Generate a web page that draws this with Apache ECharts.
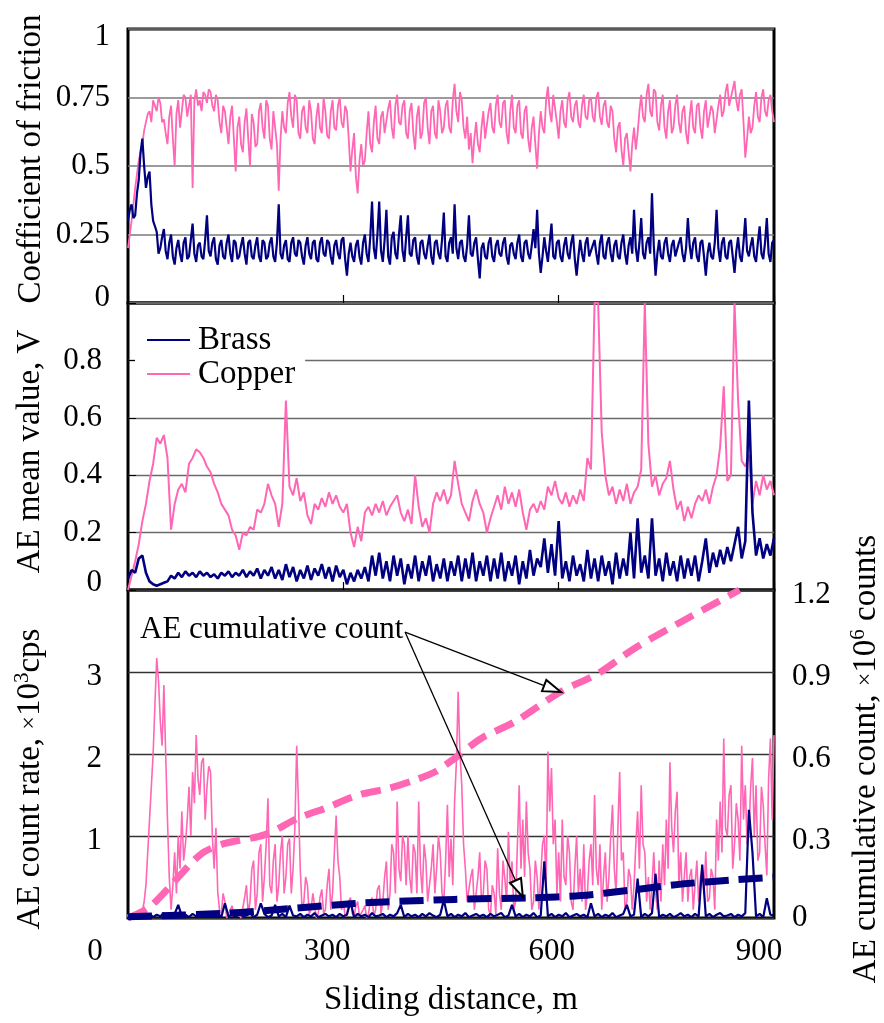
<!DOCTYPE html>
<html><head><meta charset="utf-8">
<script src="https://cdn.jsdelivr.net/npm/echarts@6/dist/echarts.min.js"></script>
<style>html,body{margin:0;padding:0;background:#fff}#c{width:884px;height:1023px}</style>
</head><body><div id="c"></div>
<script>
// Sliding distance (m) at which the traces were sampled
const distance = [
0,5,10,15,20,25,30,35,40,45,50,55,60,65,70,75,80,85,90,95,
100,105,110,115,120,125,130,135,140,145,150,155,160,165,170,175,180,185,190,195,
200,205,210,215,220,225,230,235,240,245,250,255,260,265,270,275,280,285,290,295,
300,305,310,315,320,325,330,335,340,345,350,355,360,365,370,375,380,385,390,395,
400,405,410,415,420,425,430,435,440,445,450,455,460,465,470,475,480,485,490,495,
500,505,510,515,520,525,530,535,540,545,550,555,560,565,570,575,580,585,590,595,
600,605,610,615,620,625,630,635,640,645,650,655,660,665,670,675,680,685,690,695,
700,705,710,715,720,725,730,735,740,745,750,755,760,765,770,775,780,785,790,795,
800,805,810,815,820,825,830,835,840,845,850,855,860,865,870,875,880,885,890,895,
900];
// Extra, in-between sampling positions for the densest traces
const distanceMid = [
2.5,7.5,12.5,17.5,22.5,27.5,32.5,37.5,42.5,47.5,52.5,57.5,62.5,67.5,72.5,77.5,82.5,87.5,92.5,97.5,
102.5,107.5,112.5,117.5,122.5,127.5,132.5,137.5,142.5,147.5,152.5,157.5,162.5,167.5,172.5,177.5,182.5,187.5,192.5,197.5,
202.5,207.5,212.5,217.5,222.5,227.5,232.5,237.5,242.5,247.5,252.5,257.5,262.5,267.5,272.5,277.5,282.5,287.5,292.5,297.5,
302.5,307.5,312.5,317.5,322.5,327.5,332.5,337.5,342.5,347.5,352.5,357.5,362.5,367.5,372.5,377.5,382.5,387.5,392.5,397.5,
402.5,407.5,412.5,417.5,422.5,427.5,432.5,437.5,442.5,447.5,452.5,457.5,462.5,467.5,472.5,477.5,482.5,487.5,492.5,497.5,
502.5,507.5,512.5,517.5,522.5,527.5,532.5,537.5,542.5,547.5,552.5,557.5,562.5,567.5,572.5,577.5,582.5,587.5,592.5,597.5,
602.5,607.5,612.5,617.5,622.5,627.5,632.5,637.5,642.5,647.5,652.5,657.5,662.5,667.5,672.5,677.5,682.5,687.5,692.5,697.5,
702.5,707.5,712.5,717.5,722.5,727.5,732.5,737.5,742.5,747.5,752.5,757.5,762.5,767.5,772.5,777.5,782.5,787.5,792.5,797.5,
802.5,807.5,812.5,817.5,822.5,827.5,832.5,837.5,842.5,847.5,852.5,857.5,862.5,867.5,872.5,877.5,882.5,887.5,892.5,897.5];

// Coefficient of friction
const frictionCopper = [
0.20,0.30,0.42,0.52,0.58,0.66,0.70,0.74,0.70,0.73,0.67,0.58,0.72,0.50,0.74,0.70,0.75,0.72,0.42,0.78,
0.74,0.77,0.73,0.77,0.70,0.74,0.62,0.70,0.58,0.72,0.48,0.68,0.55,0.71,0.50,0.66,0.58,0.73,0.60,0.72,
0.56,0.64,0.41,0.70,0.62,0.77,0.64,0.74,0.60,0.72,0.62,0.70,0.58,0.73,0.62,0.70,0.60,0.74,0.63,0.75,
0.64,0.70,0.48,0.62,0.40,0.58,0.52,0.70,0.55,0.72,0.58,0.70,0.62,0.74,0.60,0.76,0.65,0.74,0.60,0.73,
0.56,0.72,0.62,0.75,0.58,0.72,0.60,0.70,0.64,0.74,0.62,0.80,0.66,0.74,0.60,0.56,0.51,0.66,0.55,0.70,
0.60,0.73,0.62,0.76,0.64,0.74,0.58,0.76,0.62,0.74,0.60,0.72,0.55,0.68,0.49,0.70,0.62,0.79,0.66,0.76,
0.60,0.74,0.64,0.77,0.66,0.74,0.64,0.76,0.67,0.75,0.66,0.77,0.65,0.74,0.64,0.70,0.55,0.66,0.50,0.62,
0.48,0.64,0.62,0.76,0.66,0.80,0.68,0.77,0.63,0.76,0.60,0.74,0.64,0.76,0.62,0.72,0.58,0.74,0.62,0.73,
0.60,0.74,0.64,0.70,0.62,0.76,0.70,0.80,0.72,0.81,0.70,0.78,0.53,0.68,0.64,0.77,0.66,0.78,0.68,0.76,
0.66];
const frictionCopperMid = [
0.25,0.36,0.47,0.55,0.63,0.69,0.66,0.72,0.75,0.66,0.62,0.68,0.60,0.69,0.64,0.76,0.68,0.76,0.74,0.72,
0.70,0.76,0.78,0.72,0.76,0.66,0.72,0.64,0.68,0.60,0.64,0.58,0.66,0.60,0.69,0.57,0.70,0.64,0.74,0.60,
0.70,0.58,0.60,0.64,0.73,0.68,0.76,0.62,0.70,0.64,0.74,0.60,0.68,0.64,0.75,0.61,0.70,0.64,0.72,0.66,
0.72,0.60,0.56,0.46,0.52,0.50,0.62,0.58,0.66,0.60,0.68,0.62,0.71,0.64,0.72,0.66,0.72,0.62,0.70,0.62,
0.68,0.60,0.73,0.64,0.70,0.62,0.74,0.62,0.72,0.64,0.74,0.70,0.77,0.64,0.68,0.62,0.60,0.58,0.64,0.60,
0.70,0.64,0.72,0.66,0.73,0.62,0.70,0.64,0.72,0.62,0.70,0.60,0.64,0.58,0.62,0.64,0.74,0.70,0.76,0.66,
0.70,0.66,0.74,0.68,0.72,0.66,0.72,0.68,0.74,0.68,0.75,0.68,0.72,0.66,0.72,0.60,0.64,0.56,0.60,0.55,
0.58,0.56,0.70,0.68,0.76,0.70,0.78,0.66,0.72,0.64,0.70,0.62,0.72,0.66,0.70,0.62,0.68,0.64,0.72,0.64,
0.70,0.64,0.72,0.62,0.72,0.68,0.77,0.72,0.78,0.74,0.76,0.66,0.60,0.62,0.72,0.68,0.75,0.70,0.74,0.70];
const frictionBrass = [
0.30,0.36,0.32,0.45,0.60,0.42,0.48,0.30,0.26,0.20,0.27,0.16,0.25,0.14,0.23,0.15,0.24,0.17,0.29,0.15,
0.22,0.16,0.32,0.17,0.24,0.14,0.23,0.16,0.25,0.15,0.22,0.17,0.24,0.14,0.23,0.16,0.24,0.15,0.22,0.17,
0.24,0.15,0.36,0.16,0.23,0.15,0.24,0.17,0.22,0.14,0.24,0.16,0.23,0.15,0.24,0.17,0.22,0.14,0.23,0.16,
0.24,0.10,0.22,0.15,0.23,0.14,0.25,0.15,0.37,0.16,0.37,0.15,0.34,0.14,0.26,0.16,0.32,0.15,0.32,0.17,
0.24,0.14,0.23,0.16,0.25,0.14,0.23,0.16,0.33,0.15,0.24,0.36,0.16,0.23,0.15,0.32,0.17,0.24,0.09,0.22,
0.16,0.24,0.15,0.23,0.17,0.24,0.14,0.22,0.16,0.25,0.15,0.23,0.16,0.27,0.34,0.11,0.24,0.15,0.29,0.16,
0.23,0.15,0.24,0.16,0.25,0.10,0.23,0.15,0.24,0.17,0.23,0.14,0.25,0.16,0.24,0.15,0.23,0.16,0.25,0.14,
0.24,0.34,0.15,0.31,0.16,0.24,0.40,0.10,0.23,0.16,0.24,0.15,0.23,0.17,0.24,0.15,0.31,0.16,0.24,0.15,
0.23,0.10,0.22,0.16,0.34,0.15,0.24,0.16,0.23,0.11,0.24,0.15,0.31,0.17,0.24,0.15,0.28,0.16,0.31,0.15,
0.23];
const frictionBrassMid = [
0.34,0.31,0.40,0.55,0.50,0.46,0.36,0.28,0.18,0.24,0.19,0.22,0.17,0.20,0.18,0.22,0.16,0.23,0.18,0.21,
0.17,0.23,0.19,0.22,0.16,0.21,0.17,0.22,0.18,0.23,0.16,0.21,0.18,0.22,0.17,0.21,0.17,0.23,0.16,0.22,
0.17,0.22,0.18,0.21,0.16,0.22,0.18,0.23,0.17,0.21,0.18,0.22,0.16,0.22,0.18,0.23,0.17,0.21,0.18,0.23,
0.16,0.18,0.17,0.21,0.17,0.22,0.18,0.24,0.20,0.25,0.19,0.23,0.17,0.24,0.18,0.25,0.19,0.24,0.18,0.23,
0.17,0.22,0.18,0.21,0.17,0.22,0.18,0.23,0.17,0.22,0.18,0.20,0.22,0.17,0.21,0.18,0.22,0.16,0.20,0.17,
0.22,0.17,0.21,0.18,0.22,0.17,0.21,0.18,0.22,0.17,0.22,0.18,0.21,0.20,0.18,0.17,0.19,0.22,0.17,0.22,
0.17,0.21,0.18,0.22,0.16,0.17,0.18,0.22,0.17,0.21,0.18,0.22,0.17,0.22,0.18,0.21,0.17,0.22,0.18,0.21,
0.18,0.20,0.22,0.18,0.22,0.18,0.21,0.18,0.17,0.22,0.18,0.21,0.17,0.22,0.18,0.20,0.21,0.22,0.17,0.22,
0.17,0.18,0.17,0.22,0.20,0.22,0.17,0.22,0.17,0.19,0.17,0.22,0.19,0.21,0.17,0.22,0.18,0.22,0.18,0.22];

// AE mean value (V)
const aeMeanCopper = [
0.00,0.05,0.10,0.16,0.24,0.30,0.38,0.44,0.53,0.51,0.54,0.46,0.21,0.30,0.35,0.37,0.34,0.44,0.46,0.49,
0.48,0.46,0.43,0.41,0.37,0.34,0.30,0.28,0.26,0.21,0.19,0.14,0.20,0.19,0.22,0.21,0.28,0.27,0.30,0.37,
0.33,0.30,0.22,0.30,0.66,0.36,0.33,0.39,0.31,0.34,0.26,0.23,0.30,0.28,0.32,0.29,0.34,0.30,0.33,0.29,
0.27,0.30,0.20,0.15,0.22,0.17,0.27,0.29,0.26,0.30,0.27,0.31,0.26,0.29,0.31,0.33,0.27,0.24,0.28,0.23,
0.40,0.29,0.22,0.25,0.20,0.30,0.34,0.31,0.35,0.30,0.33,0.45,0.37,0.30,0.27,0.24,0.31,0.35,0.30,0.27,
0.20,0.25,0.29,0.33,0.28,0.36,0.30,0.34,0.29,0.35,0.27,0.21,0.28,0.30,0.27,0.31,0.28,0.36,0.33,0.38,
0.32,0.30,0.34,0.29,0.33,0.30,0.35,0.31,0.46,0.42,1.00,1.00,0.55,0.40,0.33,0.36,0.30,0.35,0.31,0.37,
0.30,0.34,0.36,0.42,1.00,0.51,0.36,0.40,0.33,0.37,0.39,0.45,0.35,0.28,0.31,0.24,0.29,0.25,0.30,0.33,
0.31,0.35,0.30,0.36,0.40,0.50,0.71,0.38,0.40,1.00,0.66,0.45,0.43,0.47,0.30,0.38,0.33,0.40,0.35,0.38,
0.33];
const aeMeanBrass = [
0.04,0.07,0.06,0.11,0.12,0.06,0.03,0.02,0.015,0.02,0.025,0.03,0.05,0.04,0.06,0.045,0.065,0.05,0.06,0.045,
0.065,0.05,0.06,0.045,0.055,0.04,0.06,0.05,0.065,0.045,0.06,0.05,0.07,0.045,0.065,0.05,0.075,0.04,0.07,0.05,
0.08,0.04,0.07,0.035,0.09,0.045,0.08,0.03,0.07,0.04,0.085,0.035,0.075,0.05,0.09,0.04,0.08,0.03,0.085,0.045,
0.07,0.02,0.06,0.03,0.07,0.04,0.08,0.03,0.12,0.05,0.13,0.04,0.10,0.03,0.12,0.05,0.11,0.02,0.09,0.04,
0.12,0.03,0.10,0.05,0.12,0.03,0.09,0.04,0.11,0.03,0.10,0.05,0.12,0.03,0.11,0.04,0.13,0.03,0.10,0.05,
0.12,0.03,0.11,0.04,0.13,0.03,0.10,0.05,0.12,0.02,0.10,0.04,0.14,0.05,0.11,0.08,0.18,0.06,0.16,0.05,
0.24,0.04,0.10,0.03,0.12,0.05,0.09,0.03,0.14,0.04,0.11,0.03,0.12,0.05,0.10,0.02,0.13,0.04,0.11,0.05,
0.20,0.04,0.25,0.06,0.12,0.04,0.25,0.05,0.11,0.03,0.13,0.05,0.10,0.03,0.12,0.04,0.11,0.05,0.12,0.03,
0.10,0.18,0.06,0.13,0.08,0.14,0.09,0.15,0.10,0.16,0.22,0.11,0.17,0.66,0.27,0.12,0.18,0.11,0.16,0.12,
0.18];

// AE count rate (x10^3 cps)
const countRateCopper = [
0,0,0.02,0.05,0.08,0.4,1.2,2.0,3.17,2.4,2.84,1.2,0.1,0.8,1.0,1.3,0.9,1.6,1.78,2.23,
1.5,1.95,1.6,1.78,0.6,0.32,0.05,0.2,0,0.15,0,0.1,0.02,0.4,0.2,0.7,0.3,0.9,0.5,1.46,
0.3,0.9,0.4,1.0,0.5,0.97,0.6,2.1,0.6,0.2,0.4,0.1,0.3,0.05,0.35,0.1,0.6,0.3,1.25,0.5,
0.2,0.05,0.25,0.02,0.2,0,0.15,0.05,0.25,0.1,0.4,0.2,0.69,0.3,0.8,1.42,0.45,0.9,1.0,0.3,
0.8,1.42,0.3,0.7,0.2,0.9,0.6,0.8,0.2,1.38,0.97,1.42,2.76,1.62,0.6,0.2,0.6,0.1,0.8,0.3,
0.6,0.04,0.3,0.85,0.1,0.48,1.05,0.69,0.2,1.62,1.2,1.42,0.6,0.2,0.5,0.52,1.0,2.03,1.83,1.2,
0.8,1.2,0.4,0.8,0.1,1.0,0.6,0.9,0.3,0.9,1.5,0.4,0.1,0.8,0.5,1.38,0.3,1.78,0.8,0.2,
0.5,0.4,1.3,1.62,0.8,0.5,0.4,0.3,0.7,0.9,1.2,1.9,0.8,1.54,0.8,0.5,0.2,0.6,0.4,0.2,
0.6,0.81,0.24,0.5,1.2,1.42,2.19,1.0,1.62,0.9,1.2,2.1,1.62,1.0,1.95,1.62,0.8,1.38,0.52,2.19,
2.23];
const countRateCopperMid = [
0,0.01,0.03,0.04,0.2,0.8,1.6,2.6,2.9,2.1,2.0,0.5,0.4,0.3,0.6,0.7,1.2,1.0,1.4,1.7,
1.9,1.2,1.85,1.0,1.1,0.1,0.3,0,0.1,0.02,0.08,0,0.25,0.05,0.6,0.1,0.8,0.2,0.9,0.4,
0.7,0.2,0.8,0.3,0.9,0.3,1.1,1.4,0.1,0.5,0.05,0.3,0,0.25,0.05,0.4,0.1,0.8,0.7,0.1,
0.02,0.2,0.05,0.15,0.02,0.1,0,0.2,0.02,0.35,0.05,0.5,0.1,0.9,0.3,0.6,1.0,0.4,0.5,0.9,
0.3,0.6,0.9,0.2,0.6,0.3,1.0,0.3,0.7,0.5,0.4,1.9,2.0,0.9,0.2,0.5,0.1,0.5,0.2,0.7,
0.1,0.4,0.05,0.3,0.7,0.2,0.4,0.1,0.9,0.6,0.5,0.8,0.1,0.7,0.1,0.9,0.4,1.3,0.9,0.3,
0.2,0.5,1.0,0.2,0.6,0.3,0.2,0.1,0.7,0.4,0.6,0.9,0.5,0.2,1.0,0.6,1.1,0.7,0.1,0.6,
0.1,0.9,0.6,0.9,0.2,0.1,0.8,0.1,0.2,0.4,0.6,1.1,1.3,0.4,0.2,0.8,0.5,0.1,0.7,0.5,
0.3,0.2,0.6,0.1,0.7,0.8,1.1,1.5,0.6,1.4,0.7,1.2,0.9,1.6,1.0,0.7,1.6,0.9,1.7,1.2];
const countRateBrass = [
0.02,0.05,0.01,0.06,0.03,0.02,0.05,0.01,0.04,0.02,0.06,0.01,0.03,0.05,0.16,0.02,0.04,0.01,0.05,0.02,
0.04,0.01,0.05,0.02,0.03,0.06,0.01,0.18,0.02,0.04,0.01,0.05,0.02,0.03,0.06,0.01,0.04,0.18,0.05,0.01,
0.03,0.16,0.02,0.05,0.01,0.15,0.03,0.02,0.05,0.01,0.04,0.02,0.06,0.01,0.03,0.05,0.02,0.04,0.01,0.05,
0.02,0.04,0.2,0.01,0.05,0.02,0.04,0.01,0.06,0.02,0.03,0.05,0.01,0.04,0.02,0.06,0.16,0.01,0.05,0.02,
0.04,0.01,0.05,0.02,0.06,0.03,0.01,0.04,0.22,0.02,0.05,0.01,0.04,0.02,0.06,0.01,0.03,0.05,0.02,0.04,
0.01,0.05,0.02,0.04,0.06,0.01,0.03,0.16,0.02,0.05,0.01,0.04,0.02,0.06,0.01,0.03,0.69,0.02,0.05,0.01,
0.04,0.02,0.06,0.01,0.03,0.05,0.02,0.04,0.01,0.18,0.02,0.05,0.01,0.04,0.02,0.06,0.01,0.03,0.05,0.16,
0.02,0.04,0.48,0.01,0.05,0.02,0.06,0.54,0.01,0.04,0.02,0.05,0.01,0.03,0.06,0.02,0.04,0.01,0.05,0.02,
0.65,0.02,0.05,0.01,0.04,0.06,0.02,0.03,0.05,0.01,0.04,0.02,0.06,1.32,0.8,0.02,0.05,0.01,0.24,0.04,
0.03];

// AE cumulative count (x10^6 counts)
const cumDistanceCopper = [0,10,30,60,90,107,135,190,237,274,321,363,400,428,455,492,539,603,655,706,771,852];
const cumCountCopper   = [0,0.011,0.04,0.12,0.206,0.243,0.273,0.304,0.365,0.401,0.45,0.474,0.505,0.535,0.584,0.657,0.718,0.828,0.895,0.987,1.084,1.2];
const cumDistanceBrass = [0,135,228,321,455,562,631,701,771,841,900];
const cumCountBrass    = [0.005,0.017,0.035,0.054,0.068,0.074,0.082,0.102,0.124,0.139,0.149];

// Axis ticks
const xTicks = [0, 300, 600, 900];
const frictionTicks = [0, 0.25, 0.5, 0.75, 1];
const aeMeanTicks = [0, 0.2, 0.4, 0.6, 0.8];
const rateTicks = [1, 2, 3];
const cumTicks = [0, 0.3, 0.6, 0.9, 1.2];

const PINK = '#ff66b3';
const NAVY = '#000080';
const FONT = '"Liberation Serif","Times New Roman",serif';

function pairs(xs, ys) {
  const n = Math.min(xs.length, ys.length);
  const out = [];
  for (let i = 0; i < n; i++) out.push([xs[i], ys[i]]);
  return out;
}
function merged(xsA, ysA, xsB, ysB) {
  return pairs(xsA, ysA).concat(pairs(xsB, ysB)).sort((a, b) => a[0] - b[0]);
}

const chart = echarts.init(document.getElementById('c'), null, {renderer: 'canvas'});

const gridBase = {left: 128, width: 646, show: true, borderColor: '#000', borderWidth: 3,
  backgroundColor: 'transparent', containLabel: false, outerBoundsMode: 'none'};

function xAxisHidden(gi) {
  return {
    type: 'value', gridIndex: gi, min: 0, max: 900, interval: 300,
    axisLine: {show: false},
    axisTick: {show: true, inside: true, length: 8, lineStyle: {color: '#000', width: 1.2}},
    axisLabel: {show: false}, splitLine: {show: false}
  };
}
const nameStyle = {fontSize: 33, fontFamily: FONT, color: '#000', lineHeight: 36};
const tickStyle = {fontSize: 31, fontFamily: FONT, color: '#000'};

const richName = {
  t: {fontSize: 33, fontFamily: FONT, color: '#000', lineHeight: 36},
  x: {fontSize: 24, fontFamily: FONT, color: '#000', lineHeight: 36},
  s: {fontSize: 21, fontFamily: FONT, color: '#000', lineHeight: 20, verticalAlign: 'top'}
};
const richTick = {
  n: Object.assign({}, tickStyle),
  dn: Object.assign({}, tickStyle, {padding: [10, 0, 0, 0]}),
  dn2: Object.assign({}, tickStyle, {padding: [16, 0, 0, 0]}),
  up: Object.assign({}, tickStyle, {padding: [0, 0, 10, 0]}),
  up2: Object.assign({}, tickStyle, {padding: [0, 0, 14, 0]})
};

const xLabelMap = {};
xLabelMap[xTicks[0]] = '{a|' + xTicks[0] + '}';
xLabelMap[xTicks[1]] = '{b|' + xTicks[1] + '}';
xLabelMap[xTicks[2]] = '{c|' + xTicks[2] + '}';
xLabelMap[xTicks[3]] = '{d|' + xTicks[3] + '}';

function inList(list, v) {
  return list.some(t => Math.abs(t - v) < 1e-6);
}
function fmt(v) { return String(+v.toFixed(2)); }

function noisy(name, xi, yi, color, width, data, z) {
  return {name: name, type: 'line', xAxisIndex: xi, yAxisIndex: yi, symbol: 'none', showSymbol: false,
    color: color, lineStyle: {color: color, width: width}, data: data, z: z};
}

const option = {
  animation: false,
  textStyle: {fontFamily: FONT},
  grid: [
    Object.assign({}, gridBase, {top: 29, height: 274}),
    Object.assign({}, gridBase, {top: 303, height: 287}),
    Object.assign({}, gridBase, {top: 590, height: 328})
  ],
  xAxis: [
    xAxisHidden(0),
    xAxisHidden(1),
    {
      type: 'value', gridIndex: 2, min: 0, max: 900, interval: 300,
      axisLine: {show: false}, axisTick: {show: false}, splitLine: {show: false},
      name: 'Sliding distance, m', nameLocation: 'middle', nameGap: 64, nameMoveOverlap: false,
      nameTextStyle: nameStyle,
      axisLabel: {
        show: true, margin: 18, showMinLabel: true, showMaxLabel: true, hideOverlap: false,
        fontSize: 31, fontFamily: FONT, color: '#000',
        formatter: v => xLabelMap[v] || '',
        rich: {
          a: Object.assign({}, tickStyle, {padding: [0, 66, 0, 0]}),
          b: Object.assign({}, tickStyle, {padding: [0, 32, 0, 0]}),
          c: Object.assign({}, tickStyle, {padding: [0, 14, 0, 0]}),
          d: Object.assign({}, tickStyle, {padding: [0, 30, 0, 0]})
        }
      }
    }
  ],
  yAxis: [
    {
      type: 'value', gridIndex: 0, min: 0, max: 1, interval: 0.25,
      axisLine: {show: false}, axisTick: {show: false},
      splitLine: {show: true, lineStyle: {color: '#7a7a7a', width: 1.6}},
      axisLabel: Object.assign({}, tickStyle, {margin: 18, showMinLabel: true, showMaxLabel: true,
        formatter: v => !inList(frictionTicks, v) ? '' : (v >= 1 ? '{dn2|' + fmt(v) + '}' : (v === 0 ? '{up|0}' : '{n|' + fmt(v) + '}')),
        rich: richTick}),
      name: 'Coefficient of friction', nameLocation: 'middle', nameGap: 79, nameMoveOverlap: false,
      nameTextStyle: Object.assign({}, nameStyle, {padding: [0, 0, 0, 14]})
    },
    {
      type: 'value', gridIndex: 1, min: 0, max: 1, interval: 0.2,
      axisLine: {show: false},
      axisTick: {show: true, inside: true, length: 8, lineStyle: {color: '#000', width: 1}},
      splitLine: {show: true, lineStyle: {color: '#6a6a6a', width: 1.4}},
      axisLabel: Object.assign({}, tickStyle, {margin: 26, showMinLabel: true, showMaxLabel: true,
        formatter: v => !inList(aeMeanTicks, v) ? '' : (v === 0 ? '{up2|0}' : '{n|' + fmt(v) + '}'),
        rich: richTick}),
      name: 'AE mean value, V', nameLocation: 'middle', nameGap: 80, nameMoveOverlap: false,
      nameTextStyle: Object.assign({}, nameStyle, {padding: [0, 10, 0, 0]})
    },
    {
      type: 'value', gridIndex: 2, min: 0, max: 4, interval: 1, position: 'left',
      axisLine: {show: false}, axisTick: {show: false},
      splitLine: {show: true, lineStyle: {color: '#333', width: 1.3}},
      axisLabel: Object.assign({}, tickStyle, {margin: 26, showMinLabel: true, showMaxLabel: true,
        formatter: v => inList(rateTicks, v) ? '{dn|' + v + '}' : '',
        rich: richTick}),
      name: '{t|AE count rate, }{x|×}{t|10}{s|3}{t|cps}', nameLocation: 'middle', nameGap: 80,
      nameMoveOverlap: false,
      nameTextStyle: Object.assign({}, nameStyle, {padding: [0, 50, 0, 0], rich: richName})
    },
    {
      type: 'value', gridIndex: 2, min: 0, max: 1.2, interval: 0.3, position: 'right',
      axisLine: {show: false}, axisTick: {show: false}, splitLine: {show: false},
      axisLabel: Object.assign({}, tickStyle, {margin: 18, showMinLabel: true, showMaxLabel: true,
        align: 'left',
        formatter: v => !inList(cumTicks, v) ? '' : (v === 0 ? '{n|0}' : '{dn|' + fmt(v) + '}'),
        rich: richTick}),
      name: '{t|AE cumulative count, }{x|×}{t|10}{s|6}{t| counts}', nameLocation: 'middle', nameGap: 74,
      nameMoveOverlap: false,
      nameTextStyle: Object.assign({}, nameStyle, {padding: [0, 10, 0, 0], rich: richName})
    }
  ],
  legend: {
    data: ['Brass', 'Copper'], orient: 'vertical', left: 135, top: 321,
    icon: 'rect', itemWidth: 43, itemHeight: 2, itemGap: 0, padding: [2, 10, 4, 12],
    backgroundColor: '#fff', selectedMode: false,
    textStyle: {fontSize: 33, fontFamily: FONT, color: '#000', lineHeight: 34, padding: [0, 0, 0, 3]}
  },
  graphic: [
    {type: 'text', left: 140, top: 614, z: 100,
     style: {text: 'AE cumulative count', fontSize: 31, fontFamily: FONT, fill: '#000'}}
  ],
  series: [
    noisy('Copper', 0, 0, PINK, 1.8, merged(distance, frictionCopper, distanceMid, frictionCopperMid), 2),
    noisy('Brass', 0, 0, NAVY, 2.2, merged(distance, frictionBrass, distanceMid, frictionBrassMid), 3),
    noisy('Copper', 1, 1, PINK, 2.0, pairs(distance, aeMeanCopper), 2),
    noisy('Brass', 1, 1, NAVY, 2.6, pairs(distance, aeMeanBrass), 3),
    noisy('Copper', 2, 2, PINK, 1.6, merged(distance, countRateCopper, distanceMid, countRateCopperMid), 2),
    noisy('Brass', 2, 2, NAVY, 2.2, pairs(distance, countRateBrass), 3),
    {name: 'Copper cumulative', type: 'line', xAxisIndex: 2, yAxisIndex: 3, symbol: 'none', showSymbol: false,
     smooth: 0.3, color: PINK, lineStyle: {color: PINK, width: 7, type: [20, 10]},
     data: pairs(cumDistanceCopper, cumCountCopper), z: 4,
     markLine: {silent: true, symbol: ['none', 'emptyTriangle'], symbolSize: [12, 18],
       lineStyle: {color: '#000', width: 1.3, type: 'solid'}, label: {show: false},
       emphasis: {disabled: true}, animation: false,
       data: [[{coord: [386, 1.046]}, {coord: [591.5, 0.8385]}]]}},
    {name: 'Brass cumulative', type: 'line', xAxisIndex: 2, yAxisIndex: 3, symbol: 'none', showSymbol: false,
     smooth: 0.3, color: NAVY, lineStyle: {color: NAVY, width: 7, type: [24, 10]},
     data: pairs(cumDistanceBrass, cumCountBrass), z: 4,
     markLine: {silent: true, symbol: ['none', 'emptyTriangle'], symbolSize: [12, 18],
       lineStyle: {color: '#000', width: 1.3, type: 'solid'}, label: {show: false},
       emphasis: {disabled: true}, animation: false,
       data: [[{coord: [386, 1.046]}, {coord: [545, 0.107]}]]}}
  ]
};
chart.setOption(option);
</script>
</body></html>
